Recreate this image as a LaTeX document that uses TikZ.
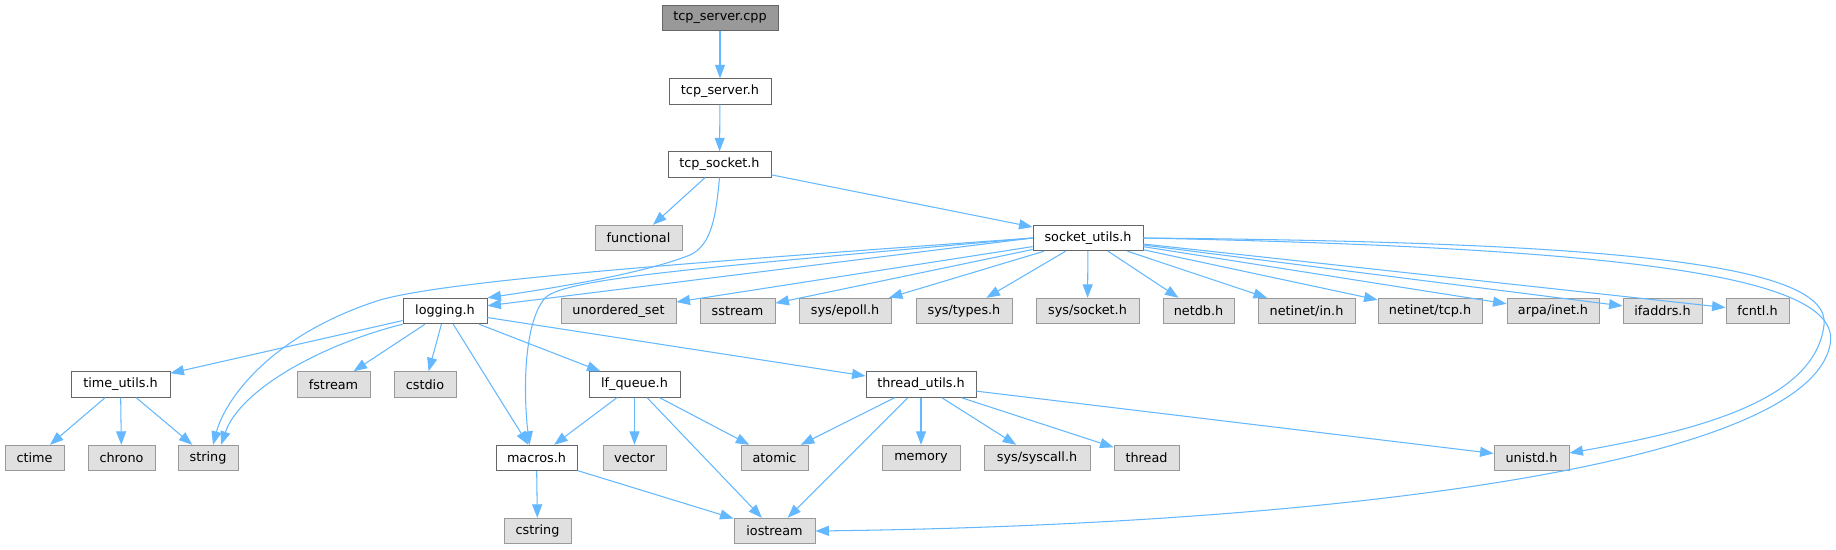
\documentclass[tikz,border=0pt]{standalone}
\usepackage{fontspec}
\setmainfont{DejaVu Sans}
\usetikzlibrary{arrows.meta}
\definecolor{edgec}{HTML}{63B8FF}
\definecolor{docb}{HTML}{666666}
\definecolor{extb}{HTML}{999999}
\definecolor{extf}{HTML}{E0E0E0}
\definecolor{rootf}{HTML}{999999}
\begin{document}
\begin{tikzpicture}[x=1pt,y=-1pt,
  box/.style={draw=docb, fill=white, line width=0.9pt, minimum height=25.5pt, inner sep=0pt, font=\fontsize{12.8}{15}\selectfont},
  ext/.style={box, draw=extb, fill=extf},
  root/.style={box, fill=rootf},
  e/.style={draw=edgec, line width=1.05pt, -{Triangle[length=13.5pt,width=10pt]}}]
\useasboundingbox[fill=white] (0,0) rectangle (1836,549);
% row 0-3
\node[root, minimum width=116pt] (cpp) at (720,18) {tcp\_server.cpp};
\node[box, minimum width=102pt] (srvh) at (720,91.5) {tcp\_server.h};
\node[box, minimum width=103pt] (sock) at (719.5,164.5) {tcp\_socket.h};
\node[ext, minimum width=87pt] (func) at (638.5,238) {functional};
\node[box, minimum width=110pt] (su) at (1088,238) {socket\_utils.h};
% row 4
\node[box, minimum width=84pt] (log) at (445,311) {logging.h};
\node[ext, minimum width=115pt] (us) at (618.5,311) {unordered\_set};
\node[ext, minimum width=75pt] (sst) at (737.5,311) {sstream};
\node[ext, minimum width=92pt] (epoll) at (845,311) {sys/epoll.h};
\node[ext, minimum width=96pt] (types) at (964,311) {sys/types.h};
\node[ext, minimum width=103pt] (ssock) at (1087.5,311) {sys/socket.h};
\node[ext, minimum width=71pt] (netdb) at (1198.5,311) {netdb.h};
\node[ext, minimum width=97pt] (nin) at (1306.5,311) {netinet/in.h};
\node[ext, minimum width=104pt] (ntcp) at (1430,311) {netinet/tcp.h};
\node[ext, minimum width=92pt] (arpa) at (1553,311) {arpa/inet.h};
\node[ext, minimum width=79pt] (ifa) at (1662.5,311) {ifaddrs.h};
\node[ext, minimum width=63pt] (fcntl) at (1757.5,311) {fcntl.h};
% row 5
\node[box, minimum width=99pt] (tu) at (120.5,384.5) {time\_utils.h};
\node[ext, minimum width=73pt] (fstr) at (333.5,384.5) {fstream};
\node[ext, minimum width=62pt] (cstdio) at (425,384.5) {cstdio};
\node[box, minimum width=91pt] (lfq) at (634.5,384.5) {lf\_queue.h};
\node[box, minimum width=110pt] (thr) at (921,384.5) {thread\_utils.h};
% row 6
\node[ext, minimum width=59pt] (ctime) at (34.5,458) {ctime};
\node[ext, minimum width=67pt] (chrono) at (121.5,458) {chrono};
\node[ext, minimum width=60pt] (string) at (208,458) {string};
\node[box, minimum width=81pt] (mac) at (536.5,458) {macros.h};
\node[ext, minimum width=63pt] (vec) at (634.5,458) {vector};
\node[ext, minimum width=67pt] (atomic) at (774.5,458) {atomic};
\node[ext, minimum width=78pt] (memory) at (921,458) {memory};
\node[ext, minimum width=106pt] (sysc) at (1037,458) {sys/syscall.h};
\node[ext, minimum width=65pt] (thread) at (1146.5,458) {thread};
\node[ext, minimum width=75pt] (unistd) at (1531.5,458) {unistd.h};
% row 7
\node[ext, minimum width=67pt] (cstring) at (537.5,531) {cstring};
\node[ext, minimum width=81pt] (iostr) at (774.5,531) {iostream};

% edges
\draw[e] (cpp) -- (srvh);
\draw[e] (srvh) -- (sock);
\draw[e] (sock) -- (func);
\draw[e] (sock) -- (su);
\draw[e] (sock.south) .. controls (716,215) and (712,245) .. (690,255) .. controls (640,275) and (540,290) .. (log.north east);
% socket_utils
\draw[e] (su.west) -- (log);
\draw[e] (su.west) .. controls (700,262) and (450,280) .. (380,300) .. controls (270,335) and (225,400) .. ([xshift=5pt]string.north);
\draw[e] (su.west) .. controls (700,268) and (565,278) .. (545,298) .. controls (522,325) and (524,400) .. ([xshift=-7pt]mac.north);
\draw[e] (su) -- (us);
\draw[e] (su) -- (sst);
\draw[e] (su) -- (epoll);
\draw[e] (su) -- (types);
\draw[e] (su) -- (ssock);
\draw[e] (su) -- (netdb);
\draw[e] (su) -- (nin);
\draw[e] (su) -- (ntcp);
\draw[e] (su) -- (arpa);
\draw[e] (su) -- (ifa);
\draw[e] (su) -- (fcntl);
\draw[e] (su.east) .. controls (1600,242) and (1832,262) .. (1824,325) .. controls (1815,400) and (1700,430) .. ([yshift=5pt]unistd.east);
\draw[e] (su.east) .. controls (1620,248) and (1845,275) .. (1830,345) .. controls (1805,470) and (1300,525) .. (iostr.east);
% logging
\draw[e] (log) -- (tu);
\draw[e] (log.south west) .. controls (320,345) and (240,390) .. ([xshift=13pt]string.north);
\draw[e] (log) -- (fstr);
\draw[e] (log) -- (cstdio);
\draw[e] (log) -- (mac);
\draw[e] (log) -- (lfq);
\draw[e] (log) -- (thr);
% time_utils
\draw[e] (tu) -- (ctime);
\draw[e] (tu) -- (chrono);
\draw[e] (tu) -- (string);
% lf_queue
\draw[e] (lfq) -- (mac);
\draw[e] (lfq) -- (vec);
\draw[e] (lfq) -- (atomic);
\draw[e] (lfq) -- (iostr);
% thread_utils
\draw[e] (thr) -- (atomic);
\draw[e] (thr) -- (iostr);
\draw[e] (thr) -- (memory);
\draw[e] (thr) -- (sysc);
\draw[e] (thr) -- (thread);
\draw[e] (thr) -- (unistd);
% macros
\draw[e] (mac) -- (cstring);
\draw[e] (mac) -- (iostr);
\end{tikzpicture}
\end{document}
